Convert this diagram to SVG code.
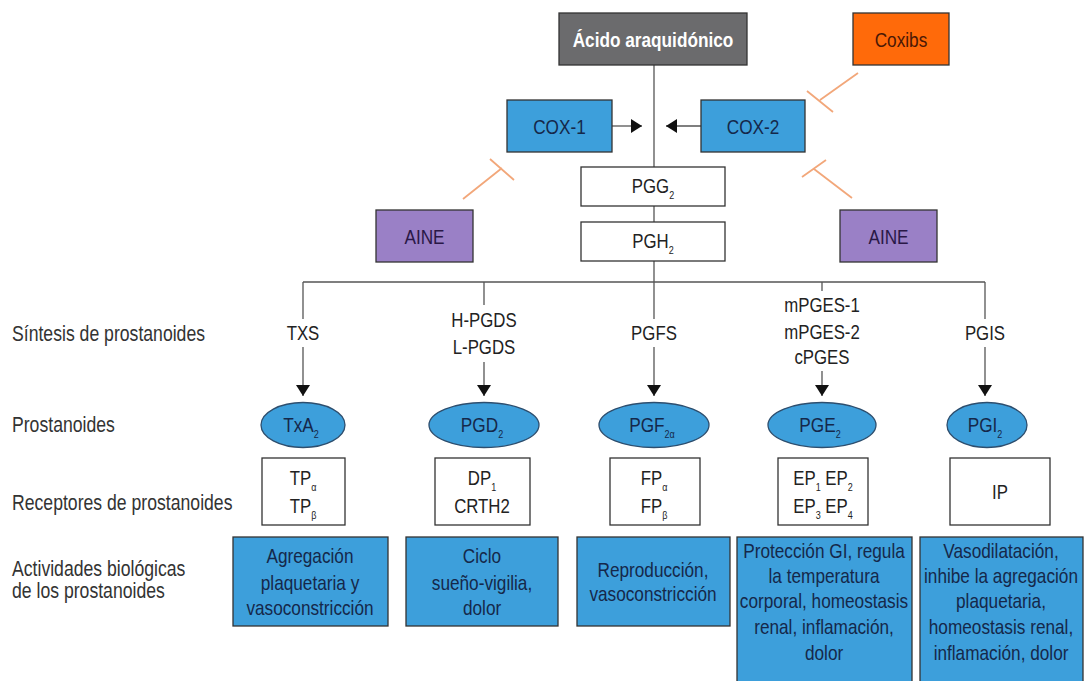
<svg xmlns="http://www.w3.org/2000/svg" width="1088" height="681" viewBox="0 0 1088 681">
<defs>
<marker id="arr" viewBox="0 0 11 14" refX="11" refY="7" markerWidth="11" markerHeight="14" markerUnits="userSpaceOnUse" orient="auto">
<path d="M0,0 L11,7 L0,14 z" fill="#111"/>
</marker>
<marker id="arrd" viewBox="0 0 11 14" refX="11" refY="7" markerWidth="11" markerHeight="14" markerUnits="userSpaceOnUse" orient="auto">
<path d="M0,0 L11,7 L0,14 z" fill="#111"/>
</marker>
</defs>
<style>
text{font-family:"Liberation Sans",Arial,sans-serif;transform-box:fill-box;transform-origin:center;transform:scaleX(0.82);}
.t{font-size:20.5px;fill:#222;text-anchor:middle;}
.lab{font-size:21.5px;fill:#333;transform-origin:left center;}
.sub{font-size:11px;}
.box{stroke:#333;stroke-width:1.3;}
.blue{fill:#3d9fdb;}
.white{fill:#fff;}
.bt{font-size:21px;fill:#15284a;text-anchor:middle;}
.line{stroke:#555;stroke-width:1.3;fill:none;}
.inh{stroke:#f2a77a;stroke-width:1.8;fill:none;}
.ell{fill:#3d9fdb;stroke:#2d4e6e;stroke-width:1.3;}
</style>
<rect width="1088" height="681" fill="#fff"/>

<g id="connectors">
<line class="line" x1="654" y1="65" x2="654" y2="282"/>
<line class="line" x1="303" y1="282" x2="985" y2="282"/>
<line class="line" x1="612" y1="126" x2="642" y2="126" marker-end="url(#arr)"/>
<line class="line" x1="701" y1="126" x2="666" y2="126" marker-end="url(#arr)"/>
<line class="line" x1="303" y1="282" x2="303" y2="319"/>
<line class="line" x1="303" y1="347" x2="303" y2="396" marker-end="url(#arrd)"/>
<line class="line" x1="484" y1="282" x2="484" y2="305"/>
<line class="line" x1="484" y1="362" x2="484" y2="396" marker-end="url(#arrd)"/>
<line class="line" x1="654" y1="282" x2="654" y2="319"/>
<line class="line" x1="654" y1="347" x2="654" y2="396" marker-end="url(#arrd)"/>
<line class="line" x1="822" y1="282" x2="822" y2="291"/>
<line class="line" x1="822" y1="371" x2="822" y2="396" marker-end="url(#arrd)"/>
<line class="line" x1="985" y1="282" x2="985" y2="319"/>
<line class="line" x1="985" y1="347" x2="985" y2="396" marker-end="url(#arrd)"/>
<path class="inh" d="M463,199 L502,168 M490,159 L514,180"/>
<path class="inh" d="M858,73 L820,100 M807,91 L833,112"/>
<path class="inh" d="M852,198 L814,169 M802,177 L826,160"/>
</g>

<g id="acido">
<rect x="559" y="13" width="188" height="52" fill="#6b6b6d" class="box"/>
<text x="653" y="47" font-size="21" font-weight="bold" fill="#fff" text-anchor="middle">Ácido araquidónico</text>
</g>
<g id="coxibs">
<rect x="853" y="13" width="96" height="52" fill="#ff6a0a" class="box"/>
<text x="901" y="47" font-size="21" fill="#4a1806" text-anchor="middle">Coxibs</text>
</g>
<g id="cox1">
<rect x="507" y="100" width="105" height="52" class="box blue"/>
<text x="559.5" y="134" class="bt">COX-1</text>
</g>
<g id="cox2">
<rect x="701" y="100" width="104" height="52" class="box blue"/>
<text x="753" y="134" class="bt">COX-2</text>
</g>
<g id="pgg2">
<rect x="581" y="167" width="144" height="39" class="box white"/>
<text x="653" y="193" class="t">PGG<tspan class="sub" dy="6">2</tspan></text>
</g>
<g id="pgh2">
<rect x="581" y="222" width="144" height="39" class="box white"/>
<text x="653" y="248" class="t">PGH<tspan class="sub" dy="6">2</tspan></text>
</g>
<g id="aine-left">
<rect x="376" y="210" width="97" height="52" fill="#9a80c6" class="box"/>
<text x="424.5" y="244" font-size="21" fill="#2a1846" text-anchor="middle">AINE</text>
</g>
<g id="aine-right">
<rect x="840" y="210" width="97" height="52" fill="#9a80c6" class="box"/>
<text x="888.5" y="244" font-size="21" fill="#2a1846" text-anchor="middle">AINE</text>
</g>

<g id="row-labels">
<text x="12" y="341" class="lab">Síntesis de prostanoides</text>
<text x="12" y="432" class="lab">Prostanoides</text>
<text x="12" y="510" class="lab">Receptores de prostanoides</text>
<text x="12" y="576" class="lab">Actividades biológicas</text>
<text x="12" y="598" class="lab">de los prostanoides</text>
</g>

<g id="enzymes">
<text x="303" y="340" class="t">TXS</text>
<text x="484" y="327" class="t">H-PGDS</text>
<text x="484" y="354" class="t">L-PGDS</text>
<text x="654" y="340" class="t">PGFS</text>
<text x="822" y="312" class="t">mPGES-1</text>
<text x="822" y="339" class="t">mPGES-2</text>
<text x="822" y="364" class="t">cPGES</text>
<text x="985" y="340" class="t">PGIS</text>
</g>

<g id="txa2">
<ellipse cx="303" cy="425" rx="42" ry="22.5" class="ell"/>
<text x="301" y="432" class="bt">TxA<tspan class="sub" dy="6">2</tspan></text>
</g>
<g id="pgd2">
<ellipse cx="484" cy="425" rx="55" ry="22.5" class="ell"/>
<text x="482" y="432" class="bt">PGD<tspan class="sub" dy="6">2</tspan></text>
</g>
<g id="pgf2a">
<ellipse cx="654" cy="425" rx="55" ry="22.5" class="ell"/>
<text x="652" y="432" class="bt">PGF<tspan class="sub" dy="6">2α</tspan></text>
</g>
<g id="pge2">
<ellipse cx="822" cy="425" rx="54" ry="22.5" class="ell"/>
<text x="820" y="432" class="bt">PGE<tspan class="sub" dy="6">2</tspan></text>
</g>
<g id="pgi2">
<ellipse cx="987" cy="425" rx="40" ry="22.5" class="ell"/>
<text x="985" y="432" class="bt">PGI<tspan class="sub" dy="6">2</tspan></text>
</g>

<g id="rec-tp">
<rect x="262" y="458" width="83" height="67" class="box white"/>
<text x="303" y="485" class="t">TP<tspan class="sub" dy="6">α</tspan></text>
<text x="303" y="513" class="t">TP<tspan class="sub" dy="6">β</tspan></text>
</g>
<g id="rec-dp">
<rect x="435" y="458" width="95" height="67" class="box white"/>
<text x="482" y="485" class="t">DP<tspan class="sub" dy="6">1</tspan></text>
<text x="482" y="513" class="t">CRTH2</text>
</g>
<g id="rec-fp">
<rect x="610" y="458" width="90" height="67" class="box white"/>
<text x="654" y="485" class="t">FP<tspan class="sub" dy="6">α</tspan></text>
<text x="654" y="513" class="t">FP<tspan class="sub" dy="6">β</tspan></text>
</g>
<g id="rec-ep">
<rect x="778" y="458" width="90" height="67" class="box white"/>
<text x="823" y="485" class="t">EP<tspan class="sub" dy="6">1</tspan><tspan dy="-6"> EP</tspan><tspan class="sub" dy="6">2</tspan></text>
<text x="823" y="513" class="t">EP<tspan class="sub" dy="6">3</tspan><tspan dy="-6"> EP</tspan><tspan class="sub" dy="6">4</tspan></text>
</g>
<g id="rec-ip">
<rect x="950" y="458" width="100" height="67" class="box white"/>
<text x="1000" y="499" class="t">IP</text>
</g>

<g id="act-txa2">
<rect x="233" y="537" width="155" height="89" class="box blue"/>
<text x="310" y="563" class="bt">Agregación</text>
<text x="310" y="590" class="bt">plaquetaria y</text>
<text x="310" y="615" class="bt">vasoconstricción</text>
</g>
<g id="act-pgd2">
<rect x="406" y="537" width="152" height="89" class="box blue"/>
<text x="482" y="563" class="bt">Ciclo</text>
<text x="482" y="590" class="bt">sueño-vigilia,</text>
<text x="482" y="615" class="bt">dolor</text>
</g>
<g id="act-pgf2a">
<rect x="577" y="537" width="153" height="89" class="box blue"/>
<text x="653" y="577" class="bt">Reproducción,</text>
<text x="653" y="601" class="bt">vasoconstricción</text>
</g>
<g id="act-pge2">
<rect x="737" y="537" width="175" height="150" class="box blue"/>
<text x="824" y="558" class="bt">Protección GI, regula</text>
<text x="824" y="583" class="bt">la temperatura</text>
<text x="824" y="608" class="bt">corporal, homeostasis</text>
<text x="824" y="634" class="bt">renal, inflamación,</text>
<text x="824" y="660" class="bt">dolor</text>
</g>
<g id="act-pgi2">
<rect x="920" y="537" width="163" height="150" class="box blue"/>
<text x="1001" y="558" class="bt">Vasodilatación,</text>
<text x="1001" y="583" class="bt">inhibe la agregación</text>
<text x="1001" y="608" class="bt">plaquetaria,</text>
<text x="1001" y="634" class="bt">homeostasis renal,</text>
<text x="1001" y="660" class="bt">inflamación, dolor</text>
</g>
</svg>
